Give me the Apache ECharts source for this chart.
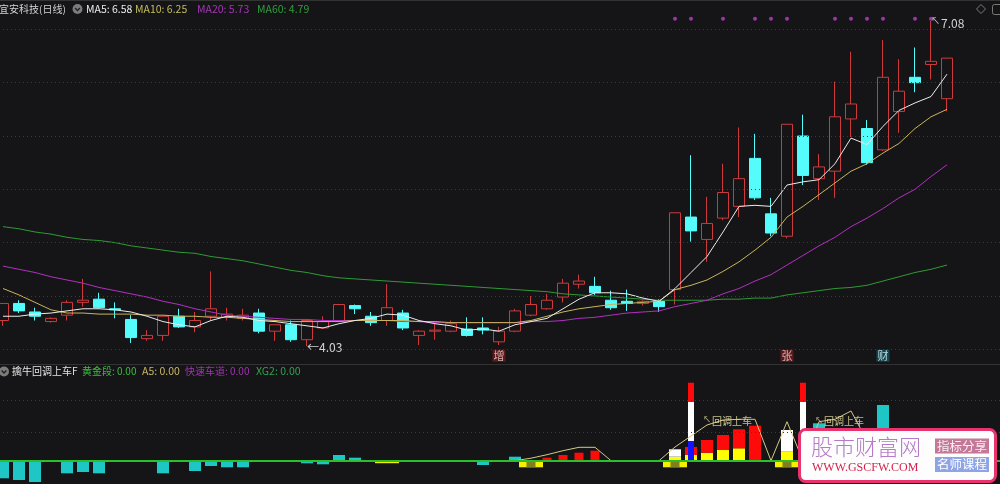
<!DOCTYPE html>
<html>
<head>
<meta charset="utf-8">
<script src="https://cdn.jsdelivr.net/npm/echarts@6.0.0/dist/echarts.min.js"></script>
<style>
html,body{margin:0;padding:0;background:#151517;overflow:hidden;}
#chart{width:1000px;height:484px;}
</style>
</head>
<body>
<div id="chart"></div>
<script>
// ================= DATA =================
const stockTitle = '宜安科技(日线)';
const indicatorTitle = '擒牛回调上车F';
const maLegend = [['MA5', '6.58'], ['MA10', '6.25'], ['MA20', '5.73'], ['MA60', '4.79']];
const indLegend = [['黄金段', '0.00'], ['A5', '0.00'], ['快速车道', '0.00'], ['XG2', '0.00']];

const dayCount = 60;
const padCount = 3;
const days = Array.from({length: dayCount + padCount}, (_, i) => 'D' + (i + 1));

const candleOpen  = [4.27,4.43,4.35,4.26,4.32,4.44,4.47,4.38,4.28,4.10, 4.13,4.31,4.21,4.31,4.30,4.29,4.34,4.17,4.23,4.09, 4.20,4.27,4.41,4.31,4.27,4.34,4.13,4.17,4.17,4.19, 4.20,4.07,4.17,4.32,4.38,4.49,4.61,4.59,4.46,4.45, 4.43,4.45,4.56,5.24,5.03,5.23,5.34,5.79,5.27,5.06, 6.00,5.60,5.67,6.16,6.07,5.87,6.23,6.55,6.67,6.35];
const candleClose = [4.43,4.36,4.31,4.29,4.44,4.46,4.39,4.37,4.11,4.13, 4.31,4.21,4.27,4.38,4.33,4.32,4.17,4.23,4.09,4.27, 4.26,4.42,4.38,4.25,4.39,4.20,4.17,4.18,4.24,4.13, 4.18,4.17,4.36,4.42,4.46,4.62,4.64,4.53,4.39,4.43, 4.45,4.40,5.28,5.11,5.18,5.47,5.60,5.42,5.09,6.11, 5.63,5.71,6.18,6.30,5.75,6.55,6.42,6.50,6.70,6.73];
const candleLow   = [4.22,4.34,4.27,4.25,4.27,4.40,4.38,4.29,4.06,4.08, 4.08,4.20,4.16,4.27,4.27,4.27,4.15,4.08,4.07,4.03, 4.19,4.26,4.33,4.22,4.22,4.18,4.04,4.09,4.16,4.12, 4.14,4.04,4.16,4.31,4.37,4.44,4.57,4.51,4.37,4.36, 4.41,4.35,4.42,5.01,4.82,5.21,5.24,5.40,5.06,5.04, 5.54,5.40,5.42,5.99,5.73,5.86,6.03,6.41,6.53,6.23];
const candleHigh  = [4.43,4.46,4.39,4.30,4.46,4.66,4.53,4.44,4.32,4.18, 4.31,4.38,4.35,4.73,4.39,4.38,4.38,4.23,4.27,4.27, 4.31,4.42,4.42,4.35,4.61,4.37,4.18,4.24,4.27,4.30, 4.30,4.21,4.38,4.50,4.52,4.66,4.70,4.68,4.55,4.56, 4.46,4.47,5.28,5.82,5.43,5.74,6.08,6.02,5.42,6.11, 6.20,5.83,6.51,6.79,6.15,6.90,6.72,6.83,7.08,6.73];

const ma5  = [4.31,4.31,4.33,4.34,4.36,4.38,4.38,4.37,4.35,4.31, 4.26,4.23,4.21,4.27,4.31,4.30,4.27,4.26,4.24,4.22, 4.20,4.24,4.27,4.29,4.33,4.32,4.27,4.24,4.22,4.18, 4.19,4.17,4.23,4.26,4.29,4.38,4.47,4.53,4.53,4.52, 4.48,4.45,4.57,4.72,4.87,5.10,5.34,5.35,5.34,5.54, 5.57,5.59,5.74,5.98,5.92,6.09,6.24,6.31,6.37,6.58];
const ma10 = [4.57,4.51,4.44,4.37,4.34,4.34,4.33,4.33,4.33,4.32, 4.32,4.31,4.31,4.30,4.30,4.29,4.28,4.27,4.26,4.26, 4.26,4.26,4.27,4.27,4.27,4.27,4.26,4.26,4.25,4.25, 4.25,4.25,4.25,4.27,4.31,4.35,4.38,4.40,4.42,4.43, 4.44,4.45,4.56,4.60,4.65,4.73,4.82,4.93,5.05,5.24, 5.34,5.45,5.56,5.67,5.74,5.84,5.93,6.07,6.18,6.25];
const ma20 = [4.78,4.75,4.72,4.68,4.65,4.62,4.58,4.55,4.52,4.49, 4.45,4.42,4.38,4.35,4.32,4.31,4.30,4.29,4.28,4.28, 4.27,4.27,4.27,4.27,4.27,4.26,4.26,4.25,4.25,4.25, 4.25,4.25,4.25,4.26,4.26,4.27,4.29,4.30,4.32,4.34, 4.35,4.36,4.40,4.43,4.46,4.52,4.57,4.64,4.70,4.79, 4.88,4.97,5.05,5.15,5.23,5.32,5.42,5.50,5.62,5.73];
const ma60 = [5.15,5.13,5.10,5.08,5.05,5.03,5.02,5.00,4.97,4.95, 4.93,4.91,4.90,4.87,4.85,4.83,4.80,4.77,4.74,4.72, 4.69,4.67,4.66,4.65,4.64,4.63,4.62,4.61,4.60,4.59, 4.58,4.57,4.56,4.55,4.54,4.52,4.51,4.50,4.49,4.48, 4.47,4.46,4.46,4.46,4.46,4.47,4.47,4.48,4.48,4.51, 4.53,4.55,4.57,4.58,4.60,4.64,4.68,4.72,4.75,4.79];

const priceGridLevels = [4.0, 4.5, 5.0, 5.5, 6.0, 6.5, 7.0];
const signalDays = [42, 43, 45, 47, 48, 49, 52, 53, 54, 55, 57, 58];
const signalLevel = 7.10;
const lowMark = {day: 19, value: 4.03};
const highMark = {day: 58, value: 7.08};
const dayTags = [{day: 31, text: '增', kind: 'up'}, {day: 49, text: '张', kind: 'up'}, {day: 55, text: '财', kind: 'down'}];
const tagLevel = 3.94;

// indicator panel: [dayIndex, value]
const histCyan = [[0,-17.6],[1,-19.3],[2,-21.3],[4,-12.6],[5,-11.3],[6,-12.6],[10,-12.6],[12,-10.3],[13,-5.3],[14,-6.6],[15,-6.6],[19,-2.6],[20,-3.6],[21,5.7],[22,3.0],[30,-4.3],[32,4.0],[51,37.4],[55,55.7]];
const stackYellow = [[42,4],[43,5.7],[44,8],[45,10.7],[46,12.4],[49,9]];
const stackRed = [[43,8],[44,12.7],[45,15],[46,19],[47,35]];
const stackWhite = [[42,7.4],[49,21.7]];
const smallRed = [[34,3],[35,5.7],[36,8],[37,10]];
const tallBlue = [[43,19.7]];
const tallWhite = [[43,39.3],[50,59]];
const tallRed = [[43,19],[50,19]];
const yellowBelow = [[24,-2.5],[33,-6.6],[42,-6.6],[49,-6.6]];
const oliveBelow = [[33,-6.6],[42,-6.6],[49,-6.6]];
const a5Line = [[32,0],[33,2.5],[34,6],[35,10],[36,13.4],[37,13.4],[38,0],[41,0],[42,13.7],[43,24.7],[44,35.7],[45,40.7],[46,41.4],[47,41.4],[48,0],[49,39],[50,0],[51,39],[52,41.4],[53,49.7],[54,20],[55,0]];
const pullbackLabels = [{day: 44, value: 39.5, text: '回调上车'}, {day: 51, value: 39, text: '回调上车'}];
const indGridLevels = [28.7, 60.7];

// ================= BUILD =================
const FONT = '"Noto Sans CJK SC", "Noto Sans", sans-serif';
const BG = '#151517';
const UP = '#cc3a3c', DOWN = '#54fcfc';
const total = dayCount + padCount;
const pad = a => a.concat(Array(padCount).fill('-'));
const dense = pairs => { const a = Array(total).fill('-'); pairs.forEach(([i, v]) => { a[i] = v; }); return a; };
const candleData = pad(candleOpen.map((o, i) => [o, candleClose[i], candleLow[i], candleHigh[i]]));

const maLine = (name, data, color) => ({
  name, type: 'line', xAxisIndex: 0, yAxisIndex: 0, data: pad(data),
  showSymbol: false, symbol: 'none', smooth: false, silent: true,
  lineStyle: {color, width: 1}, z: 3
});

const barS = (name, pairs, axis, width, color, stack) => ({
  name, type: 'bar', xAxisIndex: axis, yAxisIndex: 1, data: dense(pairs),
  barWidth: width, barGap: '-100%', stack: stack, silent: true,
  itemStyle: {color}, z: 2
});

const catAxis = (grid) => ({type: 'category', gridIndex: grid, data: days, show: false, boundaryGap: true});

const hdr = (x, y, text, fill, size) => ({type: 'text', x, y, silent: true,
  style: {text, fill, font: size + 'px ' + FONT, verticalAlign: 'middle'}});

const option = {
  backgroundColor: BG,
  animation: false,
  grid: [
    {left: -5, width: 1008, top: 8, height: 357.3, outerBoundsMode: 'none', containLabel: false},
    {left: -5, width: 1008, top: 380.7, height: 104, outerBoundsMode: 'none', containLabel: false}
  ],
  xAxis: [catAxis(0), catAxis(1), catAxis(1), catAxis(1), catAxis(1)],
  yAxis: [
    {type: 'value', gridIndex: 0, min: 3.85, max: 7.2, show: false, splitLine: {show: false}},
    {type: 'value', gridIndex: 1, min: -24, max: 80, show: false, splitLine: {show: false}}
  ],
  series: [
    {
      name: 'K', type: 'candlestick', xAxisIndex: 0, yAxisIndex: 0, data: candleData,
      barWidth: 12, silent: true, z: 2,
      itemStyle: {color: 'transparent', color0: DOWN, borderColor: UP, borderColor0: DOWN, borderWidth: 1},
      markLine: {
        silent: true, symbol: ['none', 'none'], label: {show: false}, animation: false,
        lineStyle: {type: [1, 3], color: '#3c3c3c', width: 1},
        data: priceGridLevels.map(v => ({yAxis: v}))
      },
      markPoint: {
        symbol: 'circle', symbolSize: 0, silent: true, animation: false,
        data: [
          {coord: [days[lowMark.day], lowMark.value],
           label: {show: true, position: 'right', distance: 0, offset: [0, 1],
                   formatter: '←' + lowMark.value.toFixed(2), color: '#d4d4d4', fontSize: 12, fontFamily: FONT}},
          {coord: [days[highMark.day], highMark.value],
           label: {show: true, position: 'right', distance: 0, offset: [0, 3],
                   formatter: '{a|↖}{b|' + highMark.value.toFixed(2) + '}',
                   rich: {a: {fontSize: 9, color: '#d4d4d4', fontFamily: FONT, verticalAlign: 'top', padding: [0, 1, 6, 0]},
                          b: {fontSize: 12, color: '#d4d4d4', fontFamily: FONT}}}}
        ]
      }
    },
    maLine('MA60', ma60, '#2e9a34'),
    maLine('MA20', ma20, '#b030c0'),
    maLine('MA10', ma10, '#c8b45c'),
    maLine('MA5', ma5, '#ececec'),
    {
      name: 'signal', type: 'scatter', xAxisIndex: 0, yAxisIndex: 0, silent: true,
      data: signalDays.map(d => [days[d], signalLevel]),
      symbol: 'circle', symbolSize: 4, itemStyle: {color: '#c23ccf'}, z: 4
    },
    {
      name: 'tags', type: 'scatter', xAxisIndex: 0, yAxisIndex: 0, silent: true, symbolSize: 0, z: 5,
      data: dayTags.map(t => ({
        value: [days[t.day], tagLevel],
        label: {show: true, position: 'inside', formatter: t.text, fontSize: 11, fontFamily: FONT,
                color: t.kind === 'up' ? '#f2d0d0' : '#dcfbff',
                backgroundColor: t.kind === 'up' ? '#6b1d1f' : '#17505c', padding: [1, 1, 0, 1]}
      }))
    },
    // ---- indicator panel ----
    barS('yellowBelow', yellowBelow, 4, 24, '#f4f000'),
    barS('oliveBelow', oliveBelow, 2, 9, '#80801c'),
    barS('cyan', histCyan, 1, 12, '#1fc6c6'),
    barS('yellowStack', stackYellow, 1, 12, '#ffff00', 'p'),
    barS('redStack', stackRed, 1, 12, '#ff0a0a', 'p'),
    barS('whiteStack', stackWhite, 1, 12, '#ffffff', 'p'),
    barS('redSmall', smallRed, 2, 9, '#ff0a0a'),
    barS('tallBlue', tallBlue, 3, 6, '#1414ff', 't'),
    barS('tallWhite', tallWhite, 3, 6, '#ffffff', 't'),
    barS('tallRed', tallRed, 3, 6, '#ff0a0a', 't'),
    {
      name: 'A5', type: 'line', xAxisIndex: 1, yAxisIndex: 1, data: dense(a5Line),
      showSymbol: false, symbol: 'none', connectNulls: false, silent: true, z: 4,
      lineStyle: {color: '#d6c882', width: 1},
      markLine: {
        silent: true, symbol: ['none', 'none'], label: {show: false}, animation: false,
        data: indGridLevels.map(v => ({yAxis: v, lineStyle: {type: [1, 3], color: '#3c3c3c', width: 1}}))
          .concat([{yAxis: 0, lineStyle: {type: 'solid', color: '#2cbf2c', width: 2}}])
      }
    },
    {
      name: 'pullback', type: 'scatter', xAxisIndex: 1, yAxisIndex: 1, silent: true, symbolSize: 0, z: 6,
      data: pullbackLabels.map(p => ({
        value: [days[p.day], p.value],
        label: {show: true, position: 'right', distance: 0, offset: [-4, 0],
                formatter: '{a|↖}{b|' + p.text + '}',
                rich: {a: {fontSize: 8, color: '#efe6a6', fontFamily: FONT, padding: [0, 1, 4, 0]},
                       b: {fontSize: 10, color: '#efe6a6', fontFamily: FONT}}}
      }))
    }
  ],
  graphic: [
    {type: 'line', shape: {x1: 0, y1: 0.5, x2: 1000, y2: 0.5}, style: {stroke: '#333', lineWidth: 1}, silent: true},
    {type: 'line', shape: {x1: 0, y1: 364.5, x2: 1000, y2: 364.5}, style: {stroke: '#333', lineWidth: 1}, silent: true},
    // main header
    hdr(-1, 9, stockTitle, '#d2d2d2', 10),
    {type: 'circle', shape: {cx: 77.5, cy: 9, r: 5}, style: {fill: '#7c7c7c'}, silent: true},
    {type: 'polyline', shape: {points: [[75.1, 8], [77.5, 10.4], [79.9, 8]]}, style: {stroke: '#202020', lineWidth: 1.4, fill: null}, silent: true},
    hdr(86, 9, maLegend[0][0] + ': ' + maLegend[0][1], '#ececec', 10.5),
    hdr(135, 9, maLegend[1][0] + ': ' + maLegend[1][1], '#c4bc5c', 10.5),
    hdr(197, 9, maLegend[2][0] + ': ' + maLegend[2][1], '#a336b6', 10.5),
    hdr(257, 9, maLegend[3][0] + ': ' + maLegend[3][1], '#2f9e3c', 10.5),
    // top right icons
    {type: 'polygon', shape: {points: [[981, 4.5], [985.5, 9], [981, 13.5], [976.5, 9]]}, style: {stroke: '#7a7a7a', fill: null, lineWidth: 1}, silent: true},
    {type: 'rect', shape: {x: 992.5, y: 4.5, width: 10, height: 10, r: 2}, style: {stroke: '#7a7a7a', fill: null, lineWidth: 1}, silent: true},
    // indicator header
    {type: 'circle', shape: {cx: 4, cy: 371.5, r: 5}, style: {fill: '#7c7c7c'}, silent: true},
    {type: 'polyline', shape: {points: [[1.6, 370.5], [4, 372.9], [6.4, 370.5]]}, style: {stroke: '#202020', lineWidth: 1.4, fill: null}, silent: true},
    hdr(12, 371.5, indicatorTitle, '#e2e2e2', 10),
    hdr(82, 371.5, indLegend[0][0] + ': ' + indLegend[0][1], '#3cbe3c', 10),
    hdr(142, 371.5, indLegend[1][0] + ': ' + indLegend[1][1], '#c8b868', 10.5),
    hdr(185, 371.5, indLegend[2][0] + ': ' + indLegend[2][1], '#a232b4', 10),
    hdr(256, 371.5, indLegend[3][0] + ': ' + indLegend[3][1], '#2fa450', 10.5),
    // watermark
    {type: 'rect', z: 100, shape: {x: 799.5, y: 429.5, width: 196, height: 52, r: 6}, style: {fill: '#fdfdfd', stroke: '#e8336e', lineWidth: 3}, silent: true},
    {type: 'text', z: 101, x: 811, y: 447, style: {text: '股市财富网', fill: '#b67ac8', font: '300 22px ' + FONT, verticalAlign: 'middle'}, silent: true},
    {type: 'text', z: 101, x: 812, y: 468, style: {text: 'WWW.GSCFW.COM', fill: '#d4224c', font: '12px "Liberation Serif", serif', verticalAlign: 'middle'}, silent: true},
    {type: 'rect', z: 101, shape: {x: 935, y: 438.5, width: 54, height: 15}, style: {fill: '#c27896'}, silent: true},
    {type: 'text', z: 102, x: 962, y: 446, style: {text: '指标分享', fill: '#fbeef3', font: '12.5px ' + FONT, align: 'center', verticalAlign: 'middle'}, silent: true},
    {type: 'rect', z: 101, shape: {x: 935, y: 457, width: 54, height: 15}, style: {fill: '#8ea4e6'}, silent: true},
    {type: 'text', z: 102, x: 962, y: 464.5, style: {text: '名师课程', fill: '#ffffff', font: '12.5px ' + FONT, align: 'center', verticalAlign: 'middle'}, silent: true}
  ]
};

const chart = echarts.init(document.getElementById('chart'), null, {renderer: 'canvas', width: 1000, height: 484});
chart.setOption(option);
</script>
</body>
</html>
